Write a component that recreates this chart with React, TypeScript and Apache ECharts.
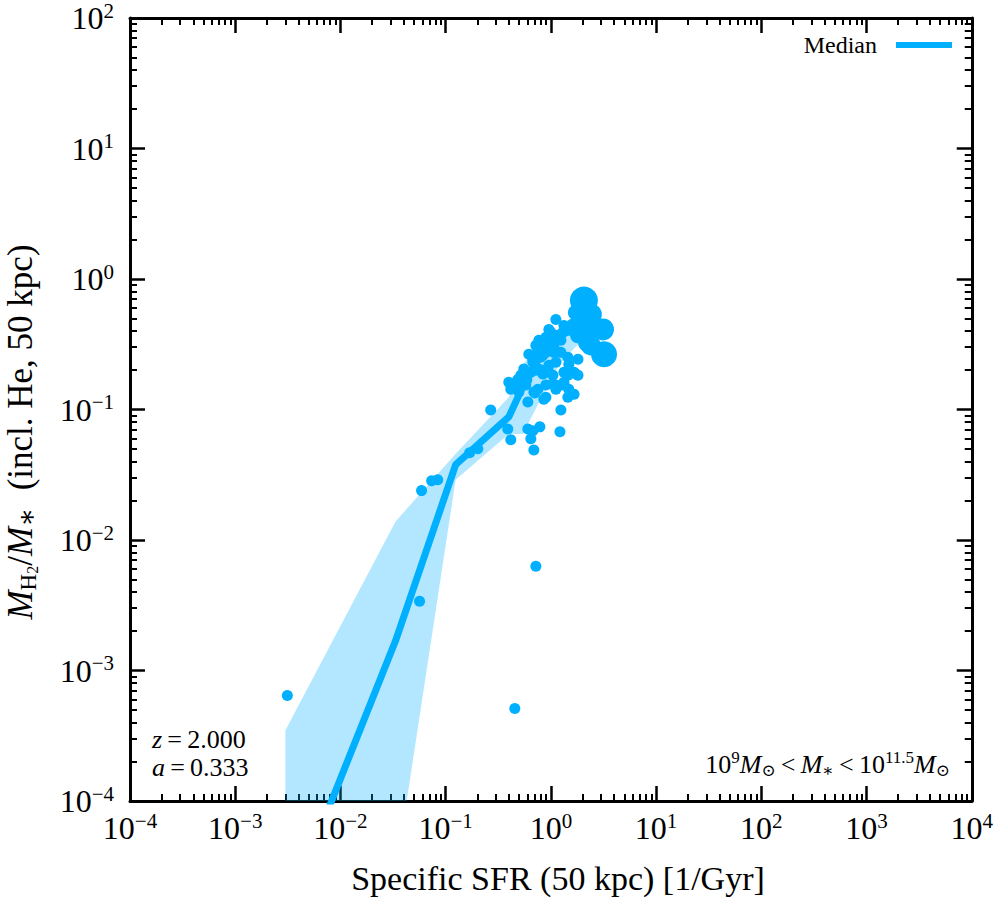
import React, { useEffect, useRef } from "react";
import * as echarts from "echarts";

const SERIF = "'Liberation Serif', 'DejaVu Serif', serif";
const BLUE = "#00b0ff";
const BAND = "rgba(0,176,255,0.3)";

// Median curve and 16-84 percentile band
const medianX = [0.003, 0.0334, 0.1245, 0.398, 0.54, 0.8, 1.2, 1.9];
const medianY = [1.3e-5, 0.00169, 0.0378, 0.0877, 0.149, 0.26, 0.36, 0.46];
const bandLower = [1e-6, 2.75e-5, 0.029, 0.065, 0.065, 0.12, 0.22, 0.33];
const bandUpper = [3.48e-4, 0.01387, 0.0458, 0.124, 0.22, 0.33, 0.42, 0.55];

// Individual galaxies
const galaxySSFR = [
  0.00313, 0.0565, 0.454, 0.72, 0.059, 0.0736, 0.084, 0.169, 0.202, 0.268,
  0.389, 0.416, 0.604, 0.674, 0.645, 0.689, 0.786, 1.22, 1.245, 0.604,
  0.857, 0.705, 1.45, 0.398, 0.445, 0.518, 0.553, 0.674, 0.72, 0.72,
  0.769, 1.0, 1.116, 1.17, 1.3, 1.81, 1.81, 1.66, 1.33, 1.245,
  1.116, 0.957, 0.896, 0.839, 1.045, 1.39, 1.45, 1.48, 0.896, 1.07,
  1.245, 0.8, 0.957, 0.617, 0.485,
  0.896, 1.045, 0.935, 0.752, 0.839, 0.674, 0.518, 0.617, 0.769, 0.957,
  1.116, 1.45, 1.73, 1.33, 1.045, 0.752, 0.896, 0.578, 0.416, 0.496,
  0.689, 1.48, 1.66, 0.896, 1.116, 1.33, 0.957, 1.33,
  0.645, 0.857, 1.245, 1.07, 0.59, 1.45,
  1.62, 1.81, 1.85, 2.25, 2.06, 2.4, 3.13, 3.2, 2.4, 1.73, 2.17,
];
const galaxyGasFrac = [
  6.43e-4, 0.0034, 5.12e-4, 0.0063, 0.0239, 0.0285, 0.029, 0.0466, 0.05, 0.099,
  0.071, 0.0586, 0.071, 0.0686, 0.0596, 0.049, 0.0736, 0.0674, 0.099, 0.114,
  0.12, 0.134, 0.124, 0.162, 0.149, 0.162, 0.204, 0.23, 0.2, 0.31,
  0.339, 0.39, 0.49, 0.37, 0.39, 0.243, 0.183, 0.193, 0.162, 0.154,
  0.154, 0.193, 0.2, 0.187, 0.156, 0.193, 0.183, 0.222, 0.274, 0.3,
  0.274, 0.251, 0.327, 0.265, 0.17,
  0.357, 0.37, 0.31, 0.284, 0.26, 0.243, 0.183, 0.193, 0.204, 0.218,
  0.23, 0.251, 0.187, 0.193, 0.183, 0.143, 0.154, 0.154, 0.143, 0.136,
  0.136, 0.143, 0.131, 0.124, 0.143, 0.154, 0.411, 0.44,
  0.193, 0.3, 0.339, 0.274, 0.168, 0.404,
  0.44, 0.37, 0.44, 0.327, 0.684, 0.535, 0.411, 0.265, 0.31, 0.553, 0.42,
];
const galaxySize = [
  11, 11, 11, 11, 11, 11, 11, 11, 11, 11,
  11, 11, 11, 11, 11, 11, 11, 11, 11, 11,
  11, 11, 11, 11, 11, 11, 11, 11, 11, 11,
  11, 11, 11, 11, 11, 11, 11, 11, 11, 11,
  11, 11, 11, 11, 11, 11, 11, 11, 11, 11,
  11, 11, 11, 11, 11,
  11, 11, 11, 11, 11, 11, 11, 11, 11, 11,
  11, 11, 11, 11, 11, 11, 11, 11, 11, 11,
  11, 11, 11, 11, 11, 11, 11, 11,
  11, 11, 11, 11, 11, 11,
  14, 16, 20, 20, 28, 22, 22, 26, 20, 16, 18,
];

const expLabel = (v: number) => {
  const e = Math.round(Math.log10(v));
  const s = e < 0 ? "\u2212" + -e : String(e);
  return "{b|10}{s|" + s + "}";
};

const labelRich = {
  b: { fontSize: 32, fontFamily: SERIF, lineHeight: 36, color: "#000" },
  s: { fontSize: 21, fontFamily: SERIF, lineHeight: 22, verticalAlign: "top", color: "#000" },
};

const GRID = { left: 130, top: 14, width: 842, height: 787 };

function makeAxis(min: number, max: number, showLabel: boolean, position: string) {
  return {
    type: "log",
    logBase: 10,
    min,
    max,
    interval: 1,
    position,
    axisLine: { show: true, onZero: false, lineStyle: { color: "#000", width: 3 } },
    axisTick: { show: true, inside: true, length: 15, lineStyle: { color: "#000", width: 2.5 } },
    minorTick: { show: true, splitNumber: 9, length: 7, lineStyle: { color: "#000", width: 2 } },
    splitLine: { show: false },
    minorSplitLine: { show: false },
    axisLabel: {
      show: showLabel,
      formatter: expLabel,
      rich: labelRich,
      margin: position === "bottom" ? 9 : 16,
    },
  };
}

export default function App() {
  const ref = useRef<HTMLDivElement>(null);
  useEffect(() => {
    if (!ref.current) return;
    const chart = echarts.init(ref.current, undefined, { renderer: "svg" });
    const scatterData = galaxySSFR.map((x, i) => [x, galaxyGasFrac[i], galaxySize[i]]);
    const medianData = medianX.map((x, i) => [x, medianY[i]]);
    const option = {
      animation: false,
      backgroundColor: "#fff",
      grid: { ...GRID, containLabel: false },
      xAxis: [makeAxis(1e-4, 1e4, true, "bottom"), makeAxis(1e-4, 1e4, false, "top")],
      yAxis: [makeAxis(1e-4, 1e2, true, "left"), makeAxis(1e-4, 1e2, false, "right")],
      legend: {
        data: ["Median"],
        right: 44,
        top: 33,
        padding: 0,
        align: "right",
        itemWidth: 56,
        itemHeight: 6,
        icon: "rect",
        textStyle: { fontFamily: SERIF, fontSize: 24, color: "#000", padding: [0, 14, 0, 0] },
      },
      series: [
        {
          type: "custom",
          name: "band",
          clip: true,
          silent: true,
          z: 1,
          data: [[1, 1]],
          renderItem: (params: any, api: any) => {
            const pts: number[][] = [];
            for (let i = 0; i < medianX.length; i++) pts.push(api.coord([medianX[i], bandUpper[i]]));
            for (let i = medianX.length - 1; i >= 0; i--) pts.push(api.coord([medianX[i], bandLower[i]]));
            const cs = params.coordSys;
            return {
              type: "polygon",
              shape: { points: pts },
              style: { fill: BAND },
              clipPath: { type: "rect", shape: { x: cs.x, y: cs.y, width: cs.width, height: cs.height } },
            };
          },
        },
        {
          type: "line",
          name: "Median",
          data: medianData,
          symbol: "none",
          clip: true,
          z: 2,
          lineStyle: { color: BLUE, width: 7 },
          itemStyle: { color: BLUE },
        },
        {
          type: "scatter",
          name: "galaxies",
          data: scatterData,
          symbolSize: (v: number[]) => v[2],
          itemStyle: { color: BLUE, opacity: 1 },
          z: 3,
        },
      ],
      graphic: [
        {
          type: "text",
          x: 152,
          y: 739,
          style: {
            text: "{i|z}{n|\u2009=\u20092.000}",
            verticalAlign: "middle",
            rich: {
              i: { fontFamily: SERIF, fontStyle: "italic", fontSize: 26, fill: "#000" },
              n: { fontFamily: SERIF, fontSize: 26, fill: "#000" },
            },
          },
        },
        {
          type: "text",
          x: 152,
          y: 767,
          style: {
            text: "{i|a}{n|\u2009=\u20090.333}",
            verticalAlign: "middle",
            rich: {
              i: { fontFamily: SERIF, fontStyle: "italic", fontSize: 26, fill: "#000" },
              n: { fontFamily: SERIF, fontSize: 26, fill: "#000" },
            },
          },
        },
        {
          type: "text",
          x: 950,
          y: 764,
          style: {
            text:
              "{n|10}{sup|9}{i|M}{sub|\u2299}{n|\u2009<\u2009}{i|M}{sub|\u2217}{n|\u2009<\u200910}{sup|11.5}{i|M}{sub|\u2299}",
            align: "right",
            verticalAlign: "middle",
            rich: {
              n: { fontFamily: SERIF, fontSize: 26, lineHeight: 30, fill: "#000" },
              i: { fontFamily: SERIF, fontStyle: "italic", fontSize: 26, lineHeight: 30, fill: "#000" },
              sup: { fontFamily: SERIF, fontSize: 17, lineHeight: 14, verticalAlign: "top", fill: "#000" },
              sub: { fontFamily: SERIF, fontSize: 17, lineHeight: 12, verticalAlign: "bottom", fill: "#000" },
            },
          },
        },
        {
          type: "text",
          x: 558,
          y: 878,
          style: {
            text: "Specific SFR (50 kpc) [1/Gyr]",
            align: "center",
            verticalAlign: "middle",
            fontFamily: SERIF,
            fontSize: 34,
            fill: "#000",
          },
        },
        {
          type: "text",
          x: 20,
          y: 432,
          rotation: Math.PI / 2,
          style: {
            text: "{i|M}{sub|H}{subsub|2}{n|/}{i|M}{star|\u2217}{n|  (incl. He, 50 kpc)}",
            align: "center",
            verticalAlign: "middle",
            rich: {
              n: { fontFamily: SERIF, fontSize: 35, lineHeight: 40, fill: "#000" },
              i: { fontFamily: SERIF, fontStyle: "italic", fontSize: 35, lineHeight: 40, fill: "#000" },
              sub: { fontFamily: SERIF, fontSize: 23, lineHeight: 20, verticalAlign: "bottom", fill: "#000" },
              subsub: { fontFamily: SERIF, fontSize: 16, lineHeight: 8, verticalAlign: "bottom", fill: "#000" },
              star: { fontFamily: SERIF, fontSize: 28, lineHeight: 28, verticalAlign: "bottom", fill: "#000" },
            },
          },
        },
      ],
    };
    chart.setOption(option as any);
    return () => chart.dispose();
  }, []);
  return (
    <div
      ref={ref}
      style={{ position: "fixed", left: 0, top: 0, width: 996, height: 900, background: "#fff" }}
    />
  );
}
